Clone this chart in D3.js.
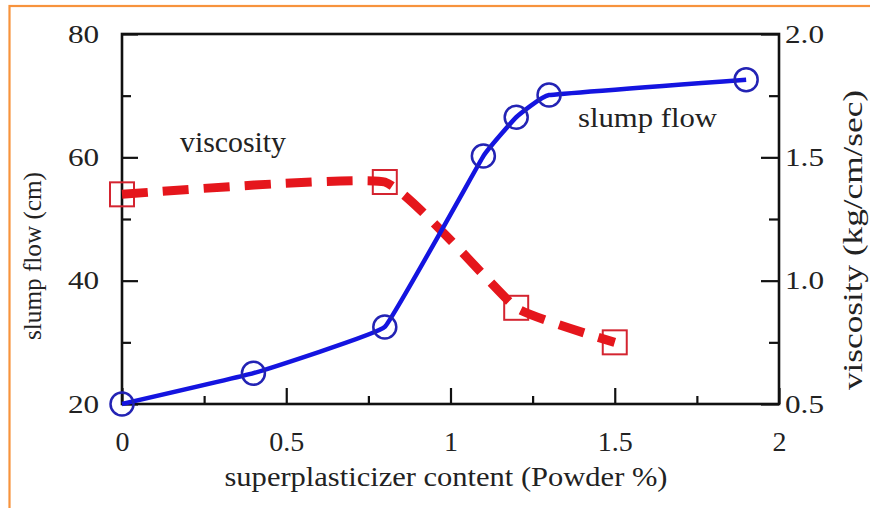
<!DOCTYPE html>
<html>
<head>
<meta charset="utf-8">
<script src="https://cdn.jsdelivr.net/npm/d3@7"></script>
<style>
  body { margin: 0; background: #fff; }
  svg { display: block; }
</style>
</head>
<body>
<div id="chart"></div>
<script>
// slump flow (left axis, cm)
var slumpX = [0, 0.4, 0.8, 1.1, 1.2, 1.3, 1.9];
var slumpY = [20, 25, 32.5, 60.2, 66.5, 70.1, 72.6];
// viscosity (right axis, kg/cm/sec)
var viscX = [0, 0.8, 1.2, 1.5];
var viscY = [1.35, 1.4, 0.89, 0.75];

var xMajor = [0, 0.5, 1, 1.5, 2];
var xMinor = [0.25, 0.75, 1.25, 1.75];
var xLabels = ["0", "0.5", "1", "1.5", "2"];
var leftMajor = [20, 40, 60, 80];
var leftMinor = [30, 50, 70];
var rightMajor = [0.5, 1.0, 1.5, 2.0];
var rightMinor = [0.75, 1.25, 1.75];

var W = 870, H = 508;
var box = {left: 122, right: 779, top: 34, bottom: 404};
var serif = "'Liberation Serif', Tinos, 'Times New Roman', Times, 'Nimbus Roman', serif";

var svg = d3.select("#chart").append("svg")
  .attr("width", W)
  .attr("height", H)
  .attr("font-family", serif);

svg.append("rect").attr("width", W).attr("height", H).attr("fill", "#fff");

// orange frame (only top and left edges fall inside the picture)
svg.append("rect")
  .attr("x", 9.5).attr("y", 6)
  .attr("width", W + 20).attr("height", H + 20)
  .attr("fill", "none")
  .attr("stroke", "#f7933d")
  .attr("stroke-width", 2.2);

var x = d3.scaleLinear().domain([0, 2]).range([box.left, box.right]);
var yL = d3.scaleLinear().domain([20, 80]).range([box.bottom, box.top]);
var yR = d3.scaleLinear().domain([0.5, 2.0]).range([box.bottom, box.top]);

// bottom axis
var gx = svg.append("g").attr("transform", "translate(0," + box.bottom + ")");
gx.call(d3.axisBottom(x).tickValues(xMajor).tickSize(-16)
  .tickFormat(function(d, i) { return xLabels[i]; }));
gx.append("g").call(d3.axisBottom(x).tickValues(xMinor).tickSize(-8).tickFormat(""));
gx.selectAll("text").attr("y", 47).attr("dy", 0).style("font-size", "28px");

// left axis
var gl = svg.append("g").attr("transform", "translate(" + box.left + ",0)");
gl.call(d3.axisLeft(yL).tickValues(leftMajor).tickSize(-16).tickPadding(19));
gl.append("g").call(d3.axisLeft(yL).tickValues(leftMinor).tickSize(-9).tickFormat(""));
gl.selectAll("text").style("font-size", "26px").attr("transform", "scale(1.2,1)");

// right axis
var gr = svg.append("g").attr("transform", "translate(" + box.right + ",0)");
gr.call(d3.axisRight(yR).tickValues(rightMajor).tickSize(-18).tickPadding(5)
  .tickFormat(d3.format(".1f")));
gr.append("g").call(d3.axisRight(yR).tickValues(rightMinor).tickSize(-10).tickFormat(""));
gr.selectAll("text").style("font-size", "26px").attr("transform", "scale(1.2,1)");

svg.selectAll(".domain").remove();
svg.selectAll("g").attr("font-family", serif);
svg.selectAll(".tick text").attr("fill", "#222");
svg.selectAll(".tick line").attr("stroke", "#111").attr("stroke-width", 2.2);

// plot frame
svg.append("rect")
  .attr("x", box.left).attr("y", box.top)
  .attr("width", box.right - box.left).attr("height", box.bottom - box.top)
  .attr("fill", "none").attr("stroke", "#111").attr("stroke-width", 2.6);

// viscosity: red dashed curve with open squares
var visc = viscX.map(function(d, i) { return [d, viscY[i]]; });
svg.append("g").selectAll("rect")
  .data(visc).enter().append("rect")
  .attr("x", function(d) { return x(d[0]) - 12; })
  .attr("y", function(d) { return yR(d[1]) - 12; })
  .attr("width", 24).attr("height", 24)
  .attr("fill", "none")
  .attr("stroke", "#d42430")
  .attr("stroke-width", 2);

svg.append("path")
  .datum(visc)
  .attr("d", d3.line().curve(d3.curveCardinal.tension(0.65))
    .x(function(d) { return x(d[0]); })
    .y(function(d) { return yR(d[1]); }))
  .attr("fill", "none")
  .attr("stroke", "#e5161c")
  .attr("stroke-width", 9)
  .attr("stroke-dasharray", "26,15");

// slump flow: blue solid curve with open circles
var slump = slumpX.map(function(d, i) { return [d, slumpY[i]]; });
svg.append("path")
  .datum(slump)
  .attr("d", d3.line().curve(d3.curveCardinal.tension(0.8))
    .x(function(d) { return x(d[0]); })
    .y(function(d) { return yL(d[1]); }))
  .attr("fill", "none")
  .attr("stroke", "#1414e0")
  .attr("stroke-width", 4.5);

svg.append("g").selectAll("circle")
  .data(slump).enter().append("circle")
  .attr("cx", function(d) { return x(d[0]); })
  .attr("cy", function(d) { return yL(d[1]); })
  .attr("r", 11.5)
  .attr("fill", "none")
  .attr("stroke", "#2323b4")
  .attr("stroke-width", 2.5);

// annotations
svg.append("text").attr("x", 180).attr("y", 152)
  .attr("fill", "#222")
  .attr("textLength", 106).attr("lengthAdjust", "spacingAndGlyphs")
  .style("font-size", "30px").text("viscosity");
svg.append("text").attr("x", 578).attr("y", 127)
  .attr("fill", "#222")
  .attr("textLength", 139).attr("lengthAdjust", "spacingAndGlyphs")
  .style("font-size", "28px").text("slump flow");

// axis titles
svg.append("text").attr("x", 446).attr("y", 486)
  .attr("fill", "#222")
  .attr("text-anchor", "middle")
  .attr("textLength", 443).attr("lengthAdjust", "spacingAndGlyphs")
  .style("font-size", "27px").text("superplasticizer content (Powder %)");

svg.append("text")
  .attr("transform", "translate(41,256) rotate(-90)")
  .attr("fill", "#222")
  .attr("text-anchor", "middle")
  .attr("textLength", 168).attr("lengthAdjust", "spacingAndGlyphs")
  .style("font-size", "26px").text("slump flow (cm)");

svg.append("text")
  .attr("transform", "translate(862,240) rotate(-90)")
  .attr("fill", "#222")
  .attr("text-anchor", "middle")
  .attr("textLength", 300).attr("lengthAdjust", "spacingAndGlyphs")
  .style("font-size", "27px").text("viscosity (kg/cm/sec)");
</script>
</body>
</html>
